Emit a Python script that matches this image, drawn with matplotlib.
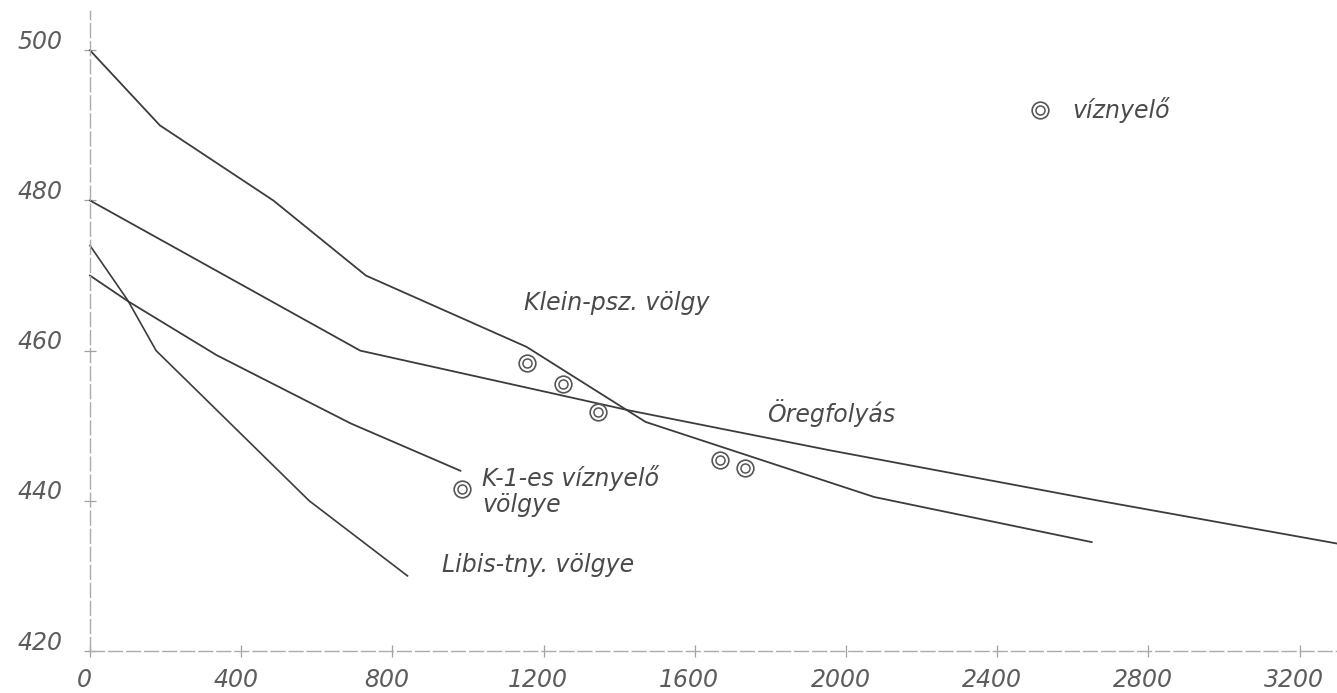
import matplotlib
matplotlib.use("Agg")
import matplotlib.pyplot as plt

# longitudinal profiles (distance m, altitude m)
klein_x = [0, 185, 485, 730, 1155, 1470, 2075, 2650]
klein_y = [500, 490, 480, 470, 460.5, 450.5, 440.5, 434.5]

oreg_x = [0, 715, 1430, 1960, 2670, 3300]
oreg_y = [480, 460, 452, 446.7, 440, 434.3]

libis_x = [0, 100, 175, 580, 840]
libis_y = [474, 466.7, 460, 440, 430]

k1_x = [0, 100, 335, 690, 980]
k1_y = [470, 466.6, 459.4, 450.3, 444]

# sinkholes (viznyelo)
sink_x = [983, 1155, 1252, 1345, 1667, 1733]
sink_y = [441.6, 458.3, 455.6, 451.8, 445.4, 444.4]

xticks = [0, 400, 800, 1200, 1600, 2000, 2400, 2800, 3200]
yticks = [420, 440, 460, 480, 500]

line_col = "#3c3c3c"
txt_col = "#4a4a4a"
font = dict(family="DejaVu Sans", style="italic", fontsize=17, color=txt_col)
tickfont = dict(font, color="#5c5c5c")

fig = plt.figure(figsize=(13.37, 6.93), dpi=100)
ax = fig.add_axes([0, 0, 1, 1])
ax.set_xlim(-238, 3299)
ax.set_ylim(414.4, 506.7)

for s in ["top", "right"]:
    ax.spines[s].set_visible(False)
ax.spines["left"].set_position(("data", 0))
ax.spines["bottom"].set_position(("data", 420))
ax.spines["left"].set_bounds(420, 505.3)
ax.spines["bottom"].set_bounds(0, 3300)
for s in ["left", "bottom"]:
    ax.spines[s].set_color("#ababab")
    ax.spines[s].set_linewidth(1.0)
    ax.spines[s].set_linestyle((0, (10, 3)))
ax.set_xticks(xticks)
ax.set_yticks(yticks)
ax.tick_params(direction="inout", length=8, width=0.9, color="#a0a0a0",
               labelbottom=False, labelleft=False)

for v in yticks:
    ax.annotate(str(v), (0, v), xytext=(-20, 6), textcoords="offset points",
                ha="right", va="center", **tickfont)
for v in xticks:
    ax.annotate(str(v), (v, 420), xytext=(-4, -21), textcoords="offset points",
                ha="center", va="center", **tickfont)

ax.plot(klein_x, klein_y, color=line_col, lw=1.3)
ax.plot(oreg_x, oreg_y, color=line_col, lw=1.3)
ax.plot(libis_x, libis_y, color=line_col, lw=1.2)
ax.plot(k1_x, k1_y, color=line_col, lw=1.3)

def sinkhole(x, y):
    ax.plot(x, y, ls="none", marker="o", ms=12, mfc="none", mec="#555555", mew=1.2)
    ax.plot(x, y, ls="none", marker="o", ms=6.5, mfc="none", mec="#555555", mew=1.1)

sinkhole(sink_x, sink_y)
sinkhole([2513], [492])
ax.text(2598, 492, "víznyelő", ha="left", va="center", **font)

ax.text(1147, 466.3, "Klein-psz. völgy", ha="left", va="center", **font)
ax.text(1790, 451.7, "Öregfolyás", ha="left", va="center", **font)
ax.text(1037, 441.3, "K-1-es víznyelő\nvölgye", ha="left", va="center",
        linespacing=1.1, **font)
ax.text(930, 431.4, "Libis-tny. völgye", ha="left", va="center", **font)

fig.savefig("out.png", dpi=100, facecolor="white")
